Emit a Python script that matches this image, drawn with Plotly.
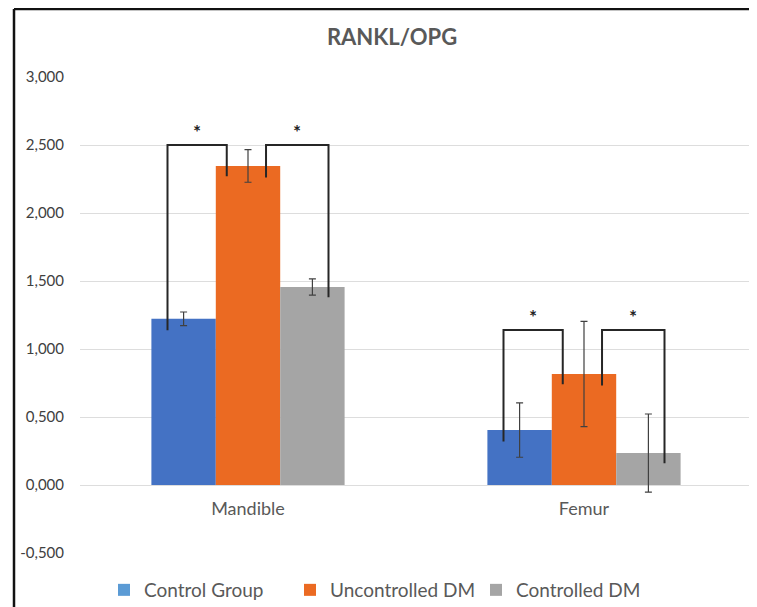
import plotly.graph_objects as go

# ---------------- data ----------------
categories = ["Mandible", "Femur"]
series_names = ["Control Group", "Uncontrolled DM", "Controlled DM"]
control_group = [1.222, 0.404]
uncontrolled_dm = [2.346, 0.816]
controlled_dm = [1.456, 0.235]
control_err = [0.05, 0.20]
uncontrolled_err = [0.12, 0.387]
controlled_err = [0.06, 0.287]
y_ticks = [-0.5, 0.0, 0.5, 1.0, 1.5, 2.0, 2.5, 3.0]
y_tick_labels = [f"{v:.3f}".replace(".", ",") for v in y_ticks]
# significance brackets: (category index, bar a, bar b, bracket height)
brackets = [(0, 0, 1, 2.5), (0, 1, 2, 2.5), (1, 0, 1, 1.14), (1, 1, 2, 1.14)]
title_text = "RANKL/OPG"

# ---------------- styles ----------------
bar_colors = ["#4472C4", "#EB6A22", "#A5A5A5"]
legend_colors = ["#5B9BD5", "#EB6A22", "#A5A5A5"]
FONT = "Lato"
TXT = "#595959"

# the page body has an 8px margin; size the figure so it fills the window
PAGE_MARGIN = 8
W, H = 757 - PAGE_MARGIN, 607 - PAGE_MARGIN
ML, MR, MT, MB = 80 - PAGE_MARGIN, 5, 77 - PAGE_MARGIN, 54
Y_MIN, Y_MAX = -0.5, 3.0
BARGAP = 0.425

values = [control_group, uncontrolled_dm, controlled_dm]
errors = [control_err, uncontrolled_err, controlled_err]

fig = go.Figure()
for name, vals, errs, col in zip(series_names, values, errors, bar_colors):
    fig.add_trace(go.Bar(
        x=categories, y=vals, name=name, marker_color=col, marker_line_width=0,
        showlegend=False,
        error_y=dict(type="data", array=errs, visible=True, color="#404040",
                     thickness=1.2, width=3.5),
    ))
# legend-only entries (legend swatches drawn with their own colours)
for name, col in zip(series_names, legend_colors):
    fig.add_trace(go.Scatter(x=[None], y=[None], name=name, mode="markers",
                             marker=dict(symbol="square", size=12, color=col),
                             showlegend=True, hoverinfo="skip"))

# brackets + stars
bar_w = (1 - BARGAP) / 3
n_series = len(series_names)
def bar_center(ci, bi):
    return ci + (bi - (n_series - 1) / 2) * bar_w

shapes = []
annotations = []
for ci, a, b, top in brackets:
    if a == 0:
        xa = bar_center(ci, a) - 0.25 * bar_w
        xb = bar_center(ci, b) - 0.33 * bar_w
    else:
        xa = bar_center(ci, a) + 0.28 * bar_w
        xb = bar_center(ci, b) + 0.25 * bar_w
    ya = values[a][ci] - 0.085
    yb = values[b][ci] - 0.075
    shapes.append(dict(type="path", xref="x", yref="y",
                       path=f"M {xa},{ya} L {xa},{top} L {xb},{top} L {xb},{yb}",
                       line=dict(color="#262626", width=2)))
    annotations.append(dict(x=(xa + xb) / 2, y=top, xref="x", yref="y",
                            text="<b>*</b>", showarrow=False, yanchor="bottom", yshift=0,
                            font=dict(family=FONT, size=19, color="#222222")))

# frame lines (top and left border of the chart)
pw = W - ML - MR
ph = H - MT - MB
fx0 = (14 - PAGE_MARGIN - ML) / pw
fy1 = (H - MB - (9 - PAGE_MARGIN)) / ph
fy0 = (H - MB - H) / ph
shapes.append(dict(type="line", xref="paper", yref="paper", x0=fx0, x1=(W + 10 - ML) / pw,
                   y0=fy1, y1=fy1, line=dict(color="#111111", width=2.5)))
shapes.append(dict(type="line", xref="paper", yref="paper", x0=fx0, x1=fx0,
                   y0=fy0 - 0.02, y1=fy1, line=dict(color="#111111", width=2.5)))

fig.update_layout(
    width=W, height=H,
    margin=dict(l=ML, r=MR, t=MT, b=MB, autoexpand=False),
    paper_bgcolor="white", plot_bgcolor="white",
    barmode="group", bargap=BARGAP, bargroupgap=0,
    title=dict(text=f"<b>{title_text}</b>", x=(392 - PAGE_MARGIN) / W,
               y=1 - (37 - PAGE_MARGIN) / H,
               xref="container", yref="container", xanchor="center", yanchor="middle",
               font=dict(family=FONT, size=22, color=TXT)),
    font=dict(family=FONT, color=TXT),
    shapes=shapes, annotations=annotations,
    legend=dict(orientation="h", x=(104 - PAGE_MARGIN) / W, xref="container",
                xanchor="left", entrywidth=141, entrywidthmode="pixels",
                y=-(590 - PAGE_MARGIN - (H - MB)) / ph, yanchor="middle",
                font=dict(family=FONT, size=19, color=TXT),
                itemclick=False, bgcolor="rgba(0,0,0,0)"),
    xaxis=dict(
        type="category", showgrid=False, showline=False, zeroline=False, ticks="",
        anchor="free", position=(0 - Y_MIN) / (Y_MAX - Y_MIN),
        ticklabelstandoff=11,
        tickfont=dict(family=FONT, size=18, color=TXT),
    ),
    yaxis=dict(
        range=[Y_MIN, Y_MAX], tickvals=y_ticks, ticktext=y_tick_labels,
        showgrid=True, gridcolor="#DDDDDD", gridwidth=1, zeroline=False,
        showline=False, ticks="", ticklabelstandoff=15,
        tickfont=dict(family=FONT, size=15, color="#404040"),
    ),
)

fig.write_html("out.html")
